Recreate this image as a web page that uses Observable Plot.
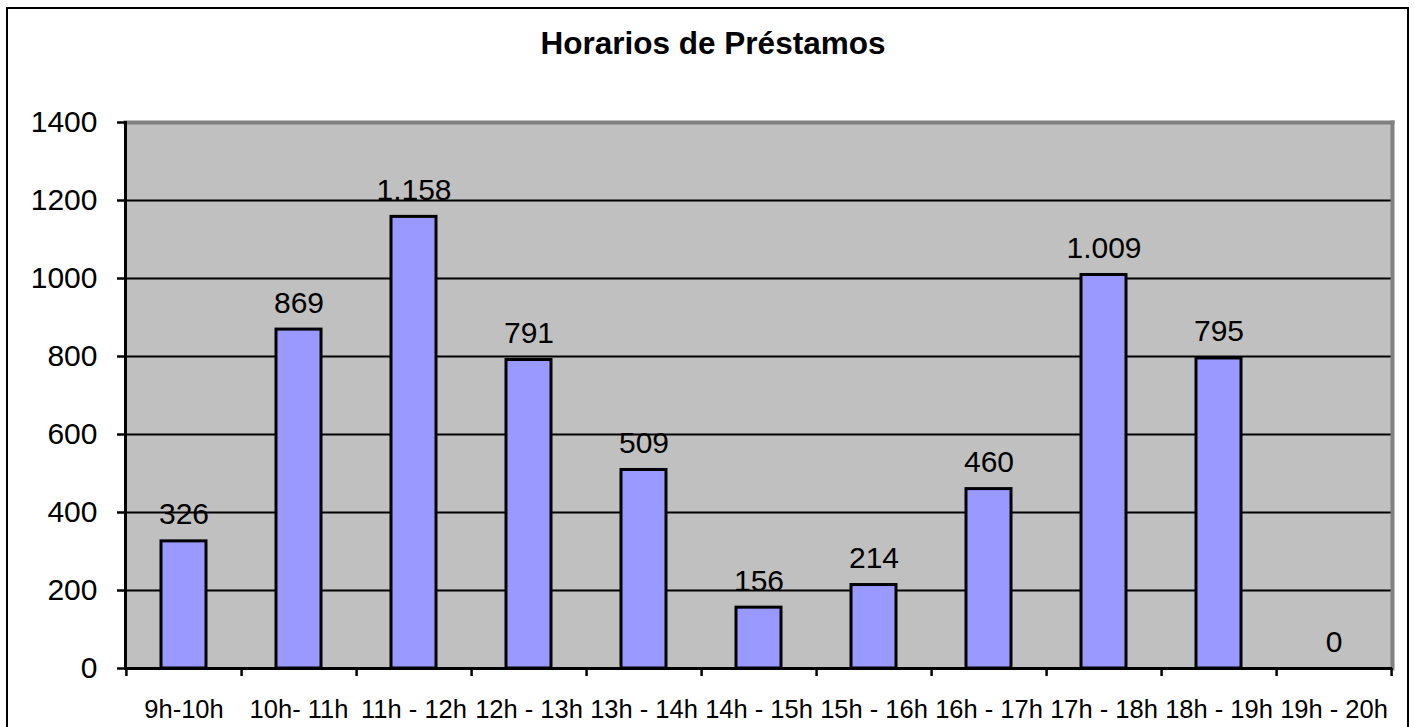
<!DOCTYPE html>
<html><head><meta charset="utf-8">
<script src="https://cdn.jsdelivr.net/npm/d3@7"></script>
<script src="https://cdn.jsdelivr.net/npm/@observablehq/plot@0.6"></script>
<style>
body{margin:0;background:#fff;font-family:"Liberation Sans",Arial,sans-serif;}
#wrap{position:relative;width:1415px;height:727px;overflow:hidden;background:#fff;}
#border{position:absolute;left:6px;top:7px;width:1403px;height:740px;border:2px solid #000;box-sizing:border-box;}
#title{position:absolute;left:13px;width:1400px;top:28px;line-height:30px;text-align:center;font-size:31.5px;font-weight:bold;color:#000;font-family:"Liberation Sans",Arial,sans-serif;}
#chart{position:absolute;left:0;top:0;}
</style></head><body>
<div id="wrap"><div id="border"></div><div id="chart"></div><div id="title"></div></div>
<script>
const title = "Horarios de Préstamos";
const categories = ["9h-10h","10h- 11h","11h - 12h","12h - 13h","13h - 14h","14h - 15h","15h - 16h","16h - 17h","17h - 18h","18h - 19h","19h - 20h"];
const values = [326, 869, 1158, 791, 509, 156, 214, 460, 1009, 795, 0];
const yTicks = [0, 200, 400, 600, 800, 1000, 1200, 1400];

document.getElementById("title").textContent = title;

const data = categories.map((c, i) => ({cat: c, value: values[i]}));
const fmt = d3.formatLocale({decimal: ",", thousands: ".", grouping: [3], currency: ["", ""]}).format(",d");

const W = 1415, H = 727, mL = 125, mR = 23, mT = 122, mB = 59;
const step = (W - mL - mR) / categories.length;
const pad = 0.61;

const chart = Plot.plot({
  width: W, height: H,
  marginLeft: mL, marginRight: mR, marginTop: mT, marginBottom: mB,
  style: {fontFamily: "'Liberation Sans', Arial, sans-serif", background: "transparent", color: "#000"},
  x: {type: "band", domain: categories, paddingInner: pad, paddingOuter: pad / 2, label: null, axis: null},
  y: {domain: [0, 1400], label: null, axis: null},
  marks: [
    Plot.frame({fill: "#C0C0C0"}),
    Plot.ruleY(yTicks.filter(d => d > 0 && d < 1400), {stroke: "#000", strokeWidth: 2}),
    Plot.frame({anchor: "top", stroke: "#808080", strokeWidth: 4}),
    Plot.frame({anchor: "right", stroke: "#808080", strokeWidth: 4}),
    Plot.barY(data, {x: "cat", y: "value", fill: "#9999FF", stroke: "#000", strokeWidth: 3}),
    Plot.text(data, {x: "cat", y: "value", text: d => fmt(d.value), dy: -17, lineAnchor: "bottom", fontSize: 30, fill: "#000"}),
    Plot.frame({anchor: "left", stroke: "#000", strokeWidth: 3}),
    Plot.ruleY([0], {stroke: "#000", strokeWidth: 3}),
    Plot.axisY({ticks: yTicks, tickSize: 8, tickPadding: 20, fontSize: 30, strokeWidth: 2.5, tickFormat: d => String(d)}),
    Plot.axisX({tickSize: 8, dx: step / 2, tickFormat: () => "", strokeWidth: 2.5, label: null}),
    Plot.axisX({ticks: [categories[0]], tickSize: 8, dx: -step / 2, tickFormat: () => "", strokeWidth: 2.5, label: null}),
    Plot.axisX({tickSize: 0, tickPadding: 31, fontSize: 25.5, label: null})
  ]
});
document.getElementById("chart").appendChild(chart);
</script>
</body></html>
